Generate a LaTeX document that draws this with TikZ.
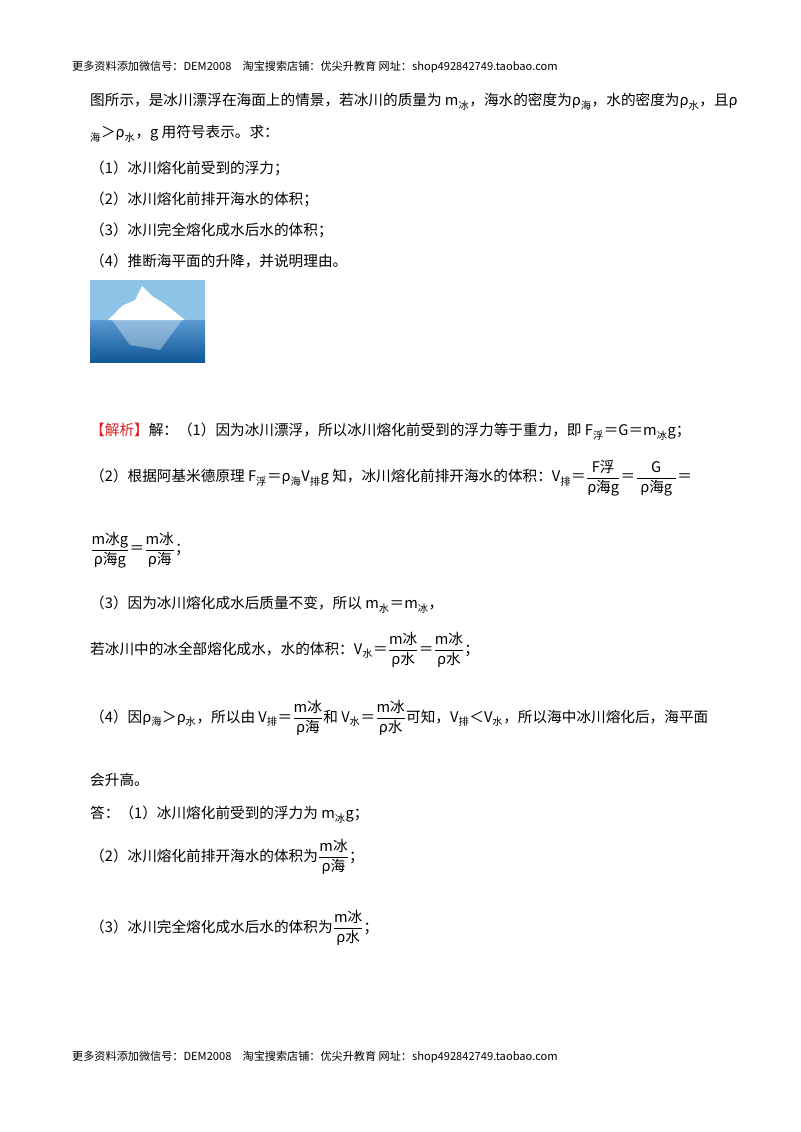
\documentclass[tikz,border=0pt]{standalone}
\usepackage{amsmath}
\usepackage{fontspec}
\setmainfont{Noto Sans CJK SC}
\usetikzlibrary{positioning}
\definecolor{skyblue}{RGB}{140,195,230}
\definecolor{seablue}{RGB}{20,110,190}
\definecolor{jiexi}{RGB}{220,30,30}
\newcommand{\sub}[1]{\ensuremath{_{\text{#1}}}}
\newcommand{\fr}[2]{\ensuremath{\dfrac{\text{#1}}{\text{#2}}}}

\begin{document}
\begin{tikzpicture}[
    x=0.03cm, y=-0.03cm,
    line/.style={anchor=west, inner sep=0pt, font=\fontsize{12.5}{15}\selectfont},
    head/.style={anchor=west, inner sep=0pt, font=\fontsize{9.5}{11}\selectfont}
]
\useasboundingbox (0,0) rectangle (800,1132);

% 页眉页脚
\node[head] (hd) at (72,67) {更多资料添加微信号：DEM2008\quad 淘宝搜索店铺：优尖升教育\ 网址：shop492842749.taobao.com};
\node[head] (ft) at (72,1057) {更多资料添加微信号：DEM2008\quad 淘宝搜索店铺：优尖升教育\ 网址：shop492842749.taobao.com};

% 题目
\node[line] (q1) at (90,102) {图所示，是冰川漂浮在海面上的情景，若冰川的质量为 m\sub{冰}，海水的密度为ρ\sub{海}，水的密度为ρ\sub{水}，且ρ};
\node[line] (q2) at (90,134) {\sub{海}＞ρ\sub{水}，g 用符号表示。求：};
\node[line] (q3) at (90,168) {（1）冰川熔化前受到的浮力；};
\node[line] (q4) at (90,199) {（2）冰川熔化前排开海水的体积；};
\node[line] (q5) at (90,230) {（3）冰川完全熔化成水后水的体积；};
\node[line] (q6) at (90,261) {（4）推断海平面的升降，并说明理由。};

% 冰山图
\fill[skyblue] (90,280) rectangle (205,320);
\shade[top color=seablue!70!white, bottom color=seablue!80!black] (90,320) rectangle (205,362);
\fill[white] (108,320) -- (122,306) -- (135,300) -- (142,286) -- (152,296) -- (165,304) -- (185,320) -- cycle;
\fill[white, opacity=0.35] (112,320) -- (130,345) -- (160,350) -- (182,320) -- cycle;

% 解析
\node[line] (a1) at (90,432) {\textcolor{jiexi}{【解析】}解：（1）因为冰川漂浮，所以冰川熔化前受到的浮力等于重力，即 F\sub{浮}＝G＝m\sub{冰}g；};
\node[line] (a2) at (90,478) {（2）根据阿基米德原理 F\sub{浮}＝ρ\sub{海}V\sub{排}g 知，冰川熔化前排开海水的体积：V\sub{排}＝\fr{F浮}{ρ海g}＝\fr{\quad G\quad}{ρ海g}＝};
\node[line] (a3) at (90,550) {\fr{m冰g}{ρ海g}＝\fr{m冰}{ρ海}；};
\node[line] (a4) at (90,605) {（3）因为冰川熔化成水后质量不变，所以 m\sub{水}＝m\sub{冰}，};
\node[line] (a5) at (90,650) {若冰川中的冰全部熔化成水，水的体积：V\sub{水}＝\fr{m冰}{ρ水}＝\fr{m冰}{ρ水}；};
\node[line] (a6) at (90,718) {（4）因ρ\sub{海}＞ρ\sub{水}，所以由 V\sub{排}＝\fr{m冰}{ρ海}和 V\sub{水}＝\fr{m冰}{ρ水}可知，V\sub{排}＜V\sub{水}，所以海中冰川熔化后，海平面};
\node[line] (a7) at (90,780) {会升高。};
\node[line] (b1) at (90,815) {答：（1）冰川熔化前受到的浮力为 m\sub{冰}g；};
\node[line] (b2) at (90,857) {（2）冰川熔化前排开海水的体积为\fr{m冰}{ρ海}；};
\node[line] (b3) at (90,928) {（3）冰川完全熔化成水后水的体积为\fr{m冰}{ρ水}；};
\end{tikzpicture}
\end{document}
